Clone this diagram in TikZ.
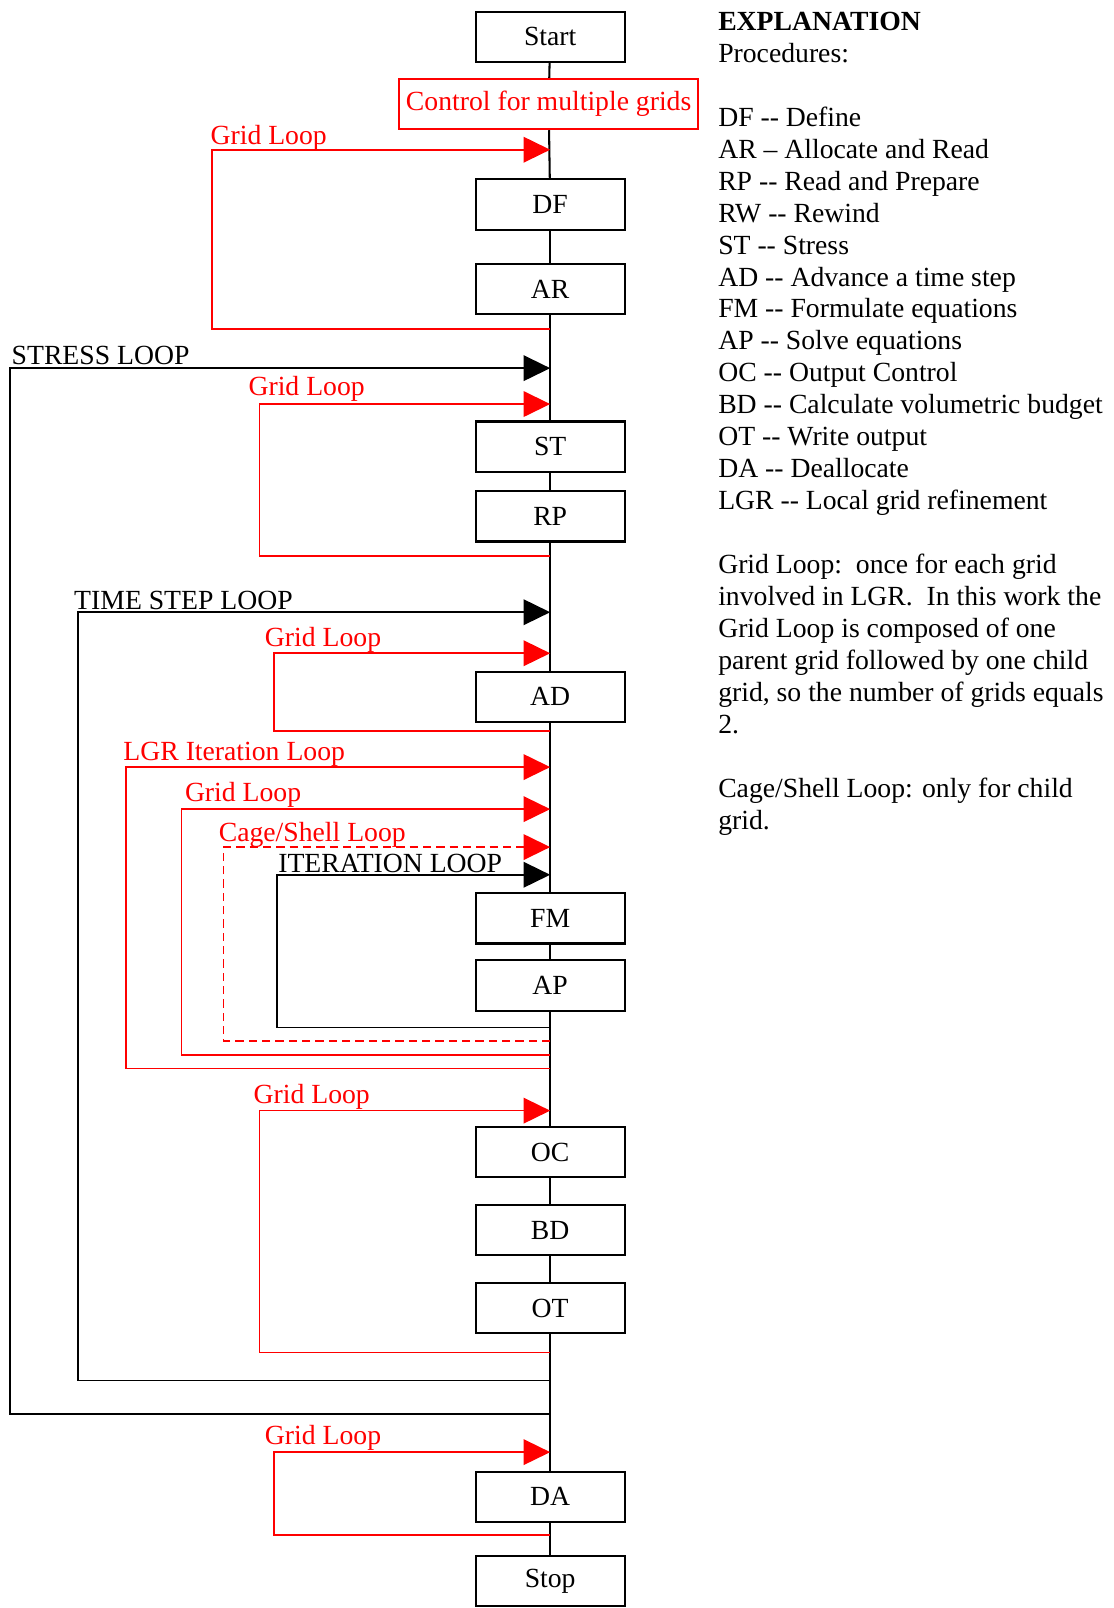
\documentclass[tikz,border=0pt]{standalone}
\usepackage{fontspec}
\setmainfont{Liberation Serif}
\usetikzlibrary{arrows.meta,positioning}
\definecolor{loopred}{HTML}{FF0000}
\newcommand{\dhy}{\mbox{-}\mbox{-}}

\tikzset{
  procbox/.style={draw=black,line width=1pt,fill=white,minimum width=72.5pt,
                  minimum height=24.5pt,inner sep=0pt},
  ctrlbox/.style={draw=loopred,line width=1pt,fill=white,text=loopred,
                  minimum width=146pt,minimum height=24.5pt,inner sep=0pt},
  trunk/.style={line width=1pt},
  looptip/.style={-{Triangle[length=13pt,width=12.5pt]}},
  redloop/.style={draw=loopred,line width=0.8pt,looptip},
  blackloop/.style={draw=black,line width=0.8pt,looptip},
  cageloop/.style={redloop,dash pattern=on 4pt off 2.5pt},
  looplab/.style={inner sep=0pt,anchor=base west}
}

\begin{document}
\begin{tikzpicture}[x=0.5pt,y=-0.5pt,font=\fontsize{13.5}{15.6}\selectfont]
  \useasboundingbox (0,0) rectangle (1086,1568);

  % procedure boxes down the main line
  \node[procbox] (start) at (536.5,36) {Start};
  \node[ctrlbox] (ctrl) at (535,101.5) {Control for multiple grids};
  \node[procbox] (df) at (536.5,199.5) {DF};
  \node[procbox] (ar) at (536.5,282) {AR};
  \node[procbox] (st) at (536.5,435.5) {ST};
  \node[procbox] (rp) at (536.5,503.5) {RP};
  \node[procbox] (ad) at (536.5,679.5) {AD};
  \node[procbox] (fm) at (536.5,895.5) {FM};
  \node[procbox] (ap) at (536.5,961) {AP};
  \node[procbox] (oc) at (536.5,1123.5) {OC};
  \node[procbox] (bd) at (536.5,1199.5) {BD};
  \node[procbox] (ot) at (536.5,1275.5) {OT};
  \node[procbox] (da) at (536.5,1459.5) {DA};
  \node[procbox] (stop) at (536.5,1541.5) {Stop};

  \foreach \a/\b in {start/ctrl,ctrl/df,df/ar,ar/st,st/rp,rp/ad,ad/fm,fm/ap,
                     ap/oc,oc/bd,bd/ot,ot/da,da/stop}
    \draw[trunk] (\a) -- (\b);

  % loops: number/label/label x/top/left/bottom/style/colour/label lift
  \foreach \i/\txt/\lx/\top/\lft/\bot/\sty/\col/\dy in {
      1/Grid Loop/205/146/207/321/redloop/loopred/5,
      2/STRESS LOOP/11/359/10/1379/blackloop/black/3.5,
      3/Grid Loop/242/394/253/542/redloop/loopred/8,
      4/TIME STEP LOOP/72/597/76/1346/blackloop/black/3,
      5/Grid Loop/258/637/267/713/redloop/loopred/7,
      6/LGR Iteration Loop/120/748/123/1042/redloop/loopred/6.5,
      7/Grid Loop/180/789/177/1029/redloop/loopred/7.5,
      8/{Cage/Shell Loop}/213/826/218/1015/cageloop/loopred/5.5,
      9/ITERATION LOOP/271/853/270/1002/blackloop/black/2.6,
      10/Grid Loop/247/1083/253/1319/redloop/loopred/7,
      11/Grid Loop/258/1416/267/1497/redloop/loopred/7}
  {
    \coordinate (in\i) at (536.5,\top);
    \coordinate (out\i) at (536.5,\bot);
    \draw[\sty] (out\i) -| (\lft,\top) -- (in\i);
    \node[looplab,text=\col] (lab\i) at (\lx,\top-\dy) {\txt};
  }

  % explanation on the right
  \node[anchor=north west,align=left,inner sep=0pt] (expl) at (700,11)
       {\textbf{EXPLANATION}\\
        Procedures:\\[15.6pt]
        DF \dhy{} Define\\
        AR – Allocate and Read\\
        RP \dhy{} Read and Prepare\\
        RW \dhy{} Rewind\\
        ST \dhy{} Stress\\
        AD \dhy{} Advance a time step\\
        FM \dhy{} Formulate equations\\
        AP \dhy{} Solve equations\\
        OC \dhy{} Output Control\\
        BD \dhy{} Calculate volumetric budget\\
        OT \dhy{} Write output\\
        DA \dhy{} Deallocate\\
        LGR \dhy{} Local grid refinement\\[15.6pt]
        Grid Loop:\ \ once for each grid\\
        involved in LGR.\ \ In this work the\\
        Grid Loop is composed of one\\
        parent grid followed by one child\\
        grid, so the number of grids equals\\
        2.\\[15.6pt]
        Cage/Shell Loop: only for child\\
        grid.};
\end{tikzpicture}
\end{document}
